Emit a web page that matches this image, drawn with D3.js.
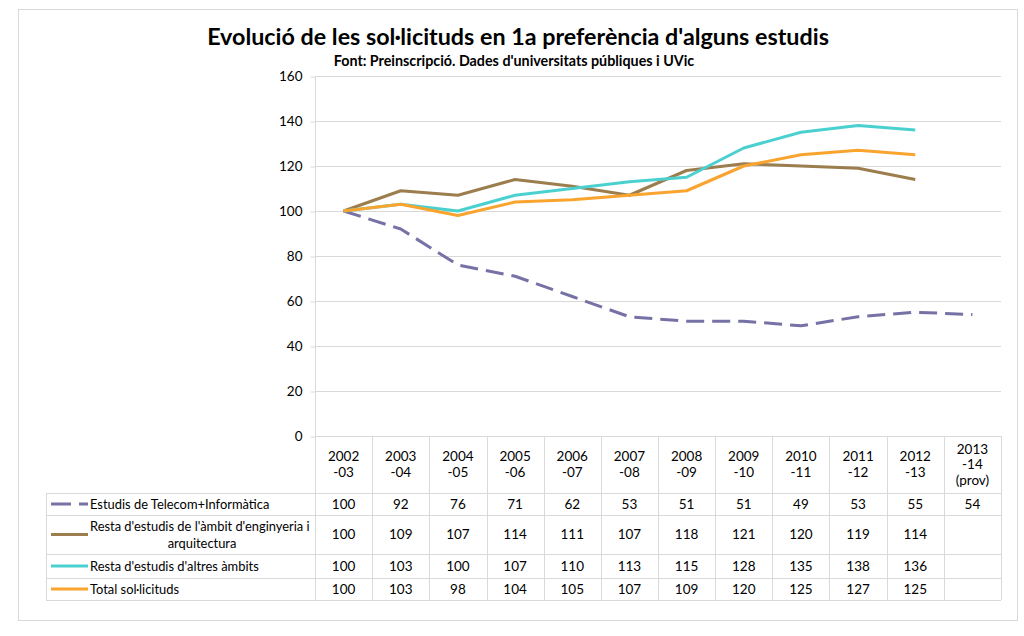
<!DOCTYPE html>
<html>
<head>
<meta charset="utf-8">
<title>Evolució de les sol·licituds</title>
<script src="https://d3js.org/d3.v7.min.js"></script>
<style>
  body { margin: 0; background: #fff; }
  text { font-family: Lato, "Open Sans", sans-serif; fill: #000; }
</style>
</head>
<body>
<svg></svg>
<script>
// columns of the data table (each label split over lines)
var periods = ["2002-03", "2003-04", "2004-05", "2005-06", "2006-07", "2007-08",
               "2008-09", "2009-10", "2010-11", "2011-12", "2012-13", "2013-14"];
var periodLines = [["2002","-03"],["2003","-04"],["2004","-05"],["2005","-06"],["2006","-07"],["2007","-08"],
                   ["2008","-09"],["2009","-10"],["2010","-11"],["2011","-12"],["2012","-13"],["2013","-14","(prov)"]];

var seriesNames = ["Estudis de Telecom+Informàtica",
                   "Resta d'estudis de l'àmbit d'enginyeria i arquitectura",
                   "Resta d'estudis d'altres àmbits",
                   "Total sol·licituds"];
var telecom    = [100, 92, 76, 71, 62, 53, 51, 51, 49, 53, 55, 54];
var enginyeria = [100, 109, 107, 114, 111, 107, 118, 121, 120, 119, 114, null];
var altres     = [100, 103, 100, 107, 110, 113, 115, 128, 135, 138, 136, null];
var total      = [100, 103, 98, 104, 105, 107, 109, 120, 125, 127, 125, null];
var yTicks = [0, 20, 40, 60, 80, 100, 120, 140, 160];

var colors = ["#7672a6", "#9b7d4e", "#4bd0d0", "#f9a42f"];
var allSeries = [telecom, enginyeria, altres, total];

var W = 1024, H = 636;
var svg = d3.select("svg").attr("width", W).attr("height", H);

// outer chart frame
svg.append("rect").attr("x", 18.5).attr("y", 9.5).attr("width", 999).attr("height", 611)
   .attr("fill", "#fff").attr("stroke", "#d9d9d9");

var x = d3.scaleBand().domain(periods).range([315, 1001]);
var y = d3.scaleLinear().domain([0, 160]).range([436, 76]);

// title
svg.append("text").attr("x", 518).attr("y", 45).attr("text-anchor", "middle")
   .style("font-size", "23.3px").style("font-weight", "bold")
   .text("Evolució de les sol·licituds en 1a preferència d'alguns estudis");
svg.append("text").attr("x", 514).attr("y", 66).attr("text-anchor", "middle")
   .style("font-size", "14.3px").style("font-weight", "bold")
   .text("Font: Preinscripció. Dades d'universitats públiques i UVic");

// gridlines
svg.append("g").selectAll("line").data(yTicks.filter(function(d){ return d > 0; }))
   .enter().append("line")
   .attr("x1", 315).attr("x2", 1001)
   .attr("y1", function(d){ return Math.round(y(d)) + 0.5; })
   .attr("y2", function(d){ return Math.round(y(d)) + 0.5; })
   .attr("stroke", "#d9d9d9");

// y axis
var yAxis = svg.append("g").attr("transform", "translate(315.5,0.5)")
   .call(d3.axisLeft(y).tickValues(yTicks).tickSize(5).tickPadding(8));
yAxis.select(".domain").remove();
yAxis.selectAll(".tick line").attr("stroke", "#d9d9d9");
yAxis.selectAll(".tick text").style("font-size", "13.5px").style("font-family", "Lato, 'Open Sans', sans-serif").attr("fill", "#000");

// table rows (top, bottom)
var rowTops = [493, 515, 554, 578, 600];
var gridColor = "#d9d9d9";
var table = svg.append("g");

// vertical lines: axis through table, column dividers
table.append("line").attr("x1", 315.5).attr("x2", 315.5).attr("y1", 76).attr("y2", 600)
     .attr("stroke", gridColor);
table.selectAll("line.col").data(periods).enter().append("line").attr("class", "col")
     .attr("x1", function(d){ return Math.round(x(d) + x.bandwidth()) + 0.5; })
     .attr("x2", function(d){ return Math.round(x(d) + x.bandwidth()) + 0.5; })
     .attr("y1", 436).attr("y2", 600).attr("stroke", gridColor);
table.append("line").attr("x1", 46.5).attr("x2", 46.5).attr("y1", 493).attr("y2", 600)
     .attr("stroke", gridColor);
// horizontal lines
table.append("line").attr("x1", 315).attr("x2", 1001).attr("y1", 436.5).attr("y2", 436.5)
     .attr("stroke", gridColor);
table.selectAll("line.row").data(rowTops).enter().append("line").attr("class", "row")
     .attr("x1", 46).attr("x2", 1001)
     .attr("y1", function(d){ return d + 0.5; }).attr("y2", function(d){ return d + 0.5; })
     .attr("stroke", gridColor);

// header labels
var headG = table.selectAll("g.head").data(periods).enter().append("g").attr("class", "head");
headG.each(function(d, i) {
  var lines = periodLines[i];
  var lh = 15.5;
  var cy = 464.5 - (lines.length - 1) * lh / 2;
  var t = d3.select(this).append("text").attr("text-anchor", "middle").style("font-size", "13.5px");
  lines.forEach(function(s, k) {
    t.append("tspan").attr("x", x(d) + x.bandwidth() / 2).attr("y", cy + k * lh + 4.5).text(s);
  });
});

// legend cells and values
allSeries.forEach(function(vals, si) {
  var top = rowTops[si], bot = rowTops[si + 1], mid = (top + bot) / 2;
  var key = svg.append("line").attr("x1", 51).attr("x2", 88).attr("y1", mid).attr("y2", mid)
     .attr("stroke", colors[si]).attr("stroke-width", 3);
  if (si === 0) key.attr("stroke-dasharray", "20,8");
  if (si === 1) {
    svg.append("text").attr("x", 90).attr("y", mid - 4).style("font-size", "12.9px")
       .text("Resta d'estudis de l'àmbit d'enginyeria i");
    svg.append("text").attr("x", 202).attr("y", mid + 13).attr("text-anchor", "middle")
       .style("font-size", "12.9px").text("arquitectura");
  } else {
    svg.append("text").attr("x", 90).attr("y", mid + 4.5).style("font-size", "12.9px")
       .text(seriesNames[si]);
  }
  var cells = periods.map(function(p, i){ return { p: p, v: vals[i] }; })
                     .filter(function(d){ return d.v !== null; });
  svg.append("g").selectAll("text").data(cells).enter().append("text")
     .attr("x", function(d){ return x(d.p) + x.bandwidth() / 2; })
     .attr("y", mid + 4.5).attr("text-anchor", "middle").style("font-size", "13.5px")
     .text(function(d){ return d.v; });
});

// lines
var line = d3.line()
  .defined(function(d){ return d.v !== null; })
  .x(function(d){ return x(d.p) + x.bandwidth() / 2; })
  .y(function(d){ return y(d.v); });

allSeries.forEach(function(vals, si) {
  var pts = periods.map(function(p, i){ return { p: p, v: vals[i] }; });
  var path = svg.append("path").datum(pts).attr("d", line)
     .attr("fill", "none").attr("stroke", colors[si]).attr("stroke-width", 3)
     .attr("stroke-linejoin", "round");
  if (si === 0) path.attr("stroke-dasharray", "18,8");
});
</script>
</body>
</html>
